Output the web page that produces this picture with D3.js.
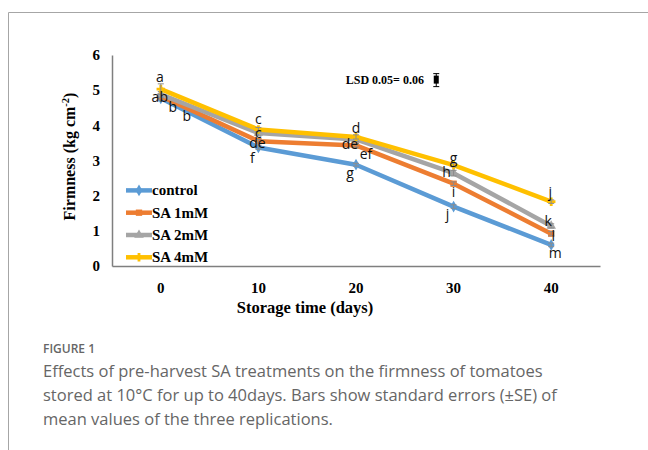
<!DOCTYPE html>
<html>
<head>
<meta charset="utf-8">
<script src="https://cdn.jsdelivr.net/npm/d3@7"></script>
<style>
  body { margin: 0; background: #fff; }
</style>
</head>
<body>
<div id="chart"></div>
<script>
// storage time (days)
const days = ['0', '10', '20', '30', '40'];
const yTicks = [0, 1, 2, 3, 4, 5, 6];

// firmness (kg cm-2)
const control = [4.77, 3.37, 2.88, 1.69, 0.60];
const sa1 = [4.83, 3.55, 3.43, 2.34, 0.92];
const sa2 = [4.88, 3.78, 3.60, 2.64, 1.14];
const sa4 = [5.03, 3.88, 3.67, 2.87, 1.83];

// standard errors (small, mostly hidden under the lines)
const seControl = [0.05, 0.05, 0.04, 0.05, 0.05];
const seSa1 = [0.05, 0.05, 0.05, 0.05, 0.06];
const seSa2 = [0.08, 0.08, 0.06, 0.08, 0.06];
const seSa4 = [0.15, 0.06, 0.06, 0.05, 0.05];

// significance letters
const letControl = ['b', 'f', 'g', 'j', 'm'];
const letSa1 = ['b', 'de', 'ef', 'i', 'l'];
const letSa2 = ['ab', 'c', 'de', 'h', 'k'];
const letSa4 = ['a', 'c', 'd', 'g', 'j'];

const seriesNames = ['control', 'SA 1mM', 'SA 2mM', 'SA 4mM'];

const series = [
  {name: seriesNames[0], values: control, se: seControl, letters: letControl,
   color: '#5B9BD5', marker: d3.symbolDiamond,
   off: [[26, 17], [-6, 10], [-6, 8], [-6, 7], [4, 8]]},
  {name: seriesNames[1], values: sa1, se: seSa1, letters: letSa1,
   color: '#ED7D31', marker: d3.symbolSquare,
   off: [[12, 10], [-1, 1], [10, 8], [0, 8], [2, 2]]},
  {name: seriesNames[2], values: sa2, se: seSa2, letters: letSa2,
   color: '#A5A5A5', marker: d3.symbolTriangle,
   off: [[-1, 2], [0, -1], [-6, 4], [-7, -2], [-3, -5]]},
  {name: seriesNames[3], values: sa4, se: seSa4, letters: letSa4,
   color: '#FFC000', marker: d3.symbolCross,
   off: [[-1, -13], [0, -11], [0, -9], [0, -8], [-1, -10]]}
];

const W = 648, H = 450;
const margin = {top: 55, right: 48, bottom: 184, left: 112};
const innerW = W - margin.left - margin.right;
const innerH = H - margin.top - margin.bottom;
const serif = '"Liberation Serif", "Times New Roman", serif';
const sans = '"Open Sans", "Noto Sans", sans-serif';

const svg = d3.select('#chart').append('svg')
  .attr('width', W)
  .attr('height', H);

// outer frame (top and left rule of the figure box)
svg.append('path')
  .attr('d', 'M8.5,' + H + 'V12.5H' + W)
  .attr('fill', 'none')
  .attr('stroke', '#a6a6a6')
  .attr('stroke-width', 1);

const g = svg.append('g')
  .attr('transform', 'translate(' + margin.left + ' ' + margin.top + ')');

const x = d3.scaleBand()
  .domain(days)
  .range([0, innerW]);
const y = d3.scaleLinear()
  .domain([0, 6])
  .range([innerH, 0]);
const cx = d => x(d) + x.bandwidth() / 2;

// axes
const yAxis = g.append('g')
  .call(d3.axisLeft(y).tickValues(yTicks).tickSize(0).tickPadding(12).tickFormat(d3.format('d')));
yAxis.select('.domain').attr('stroke', '#7f7f7f').attr('stroke-width', 1.5);
yAxis.selectAll('text')
  .attr('font-family', serif).attr('font-weight', 'bold').attr('font-size', 15).attr('fill', '#000');

const xAxis = g.append('g')
  .attr('transform', 'translate(0 ' + innerH + ')')
  .call(d3.axisBottom(x).tickSize(0).tickPadding(16));
xAxis.select('.domain').attr('stroke', '#7f7f7f').attr('stroke-width', 1.5);
xAxis.selectAll('text')
  .attr('font-family', serif).attr('font-weight', 'bold').attr('font-size', 15).attr('fill', '#000');

// axis titles
g.append('text')
  .attr('x', cx('20') - 51)
  .attr('y', innerH + 47)
  .attr('text-anchor', 'middle')
  .attr('font-family', serif).attr('font-weight', 'bold').attr('font-size', 16.5)
  .text('Storage time (days)');

const yTitle = g.append('text')
  .attr('transform', 'translate(-37 ' + (innerH / 2 - 4) + ') rotate(-90)')
  .attr('text-anchor', 'middle')
  .attr('font-family', serif).attr('font-weight', 'bold').attr('font-size', 16);
yTitle.append('tspan').text('Firmness (kg cm');
yTitle.append('tspan').attr('font-size', 10.5).attr('dy', -6).text('-2');
yTitle.append('tspan').attr('dy', 6).text(')');

// lines
const line = d3.line()
  .x((d, i) => cx(days[i]))
  .y(d => y(d));

series.forEach(s => {
  const sg = g.append('g');
  sg.append('path')
    .datum(s.values)
    .attr('d', line)
    .attr('fill', 'none')
    .attr('stroke', s.color)
    .attr('stroke-width', 4.5)
    .attr('stroke-linejoin', 'round');
  sg.selectAll('.marker')
    .data(s.values)
    .join('path')
    .attr('class', 'marker')
    .attr('transform', (d, i) => 'translate(' + cx(days[i]) + ' ' + y(d) + ')')
    .attr('d', d3.symbol().type(s.marker).size(40))
    .attr('fill', s.color);
  // error bars
  sg.selectAll('.err')
    .data(s.values)
    .join('path')
    .attr('class', 'err')
    .attr('d', (d, i) => {
      const xx = cx(days[i]);
      const y0 = y(d - s.se[i]), y1 = y(d + s.se[i]);
      return 'M' + (xx - 3) + ',' + y1 + 'H' + (xx + 3) + 'M' + xx + ',' + y1 + 'V' + y0 +
        'M' + (xx - 3) + ',' + y0 + 'H' + (xx + 3);
    })
    .attr('fill', 'none')
    .attr('stroke', '#8c8c8c')
    .attr('stroke-width', 1);
});

// significance letters
series.forEach(s => {
  g.append('g').selectAll('text')
    .data(s.letters)
    .join('text')
    .attr('x', (d, i) => cx(days[i]) + s.off[i][0])
    .attr('y', (d, i) => y(s.values[i]) + s.off[i][1])
    .attr('text-anchor', 'middle')
    .attr('dominant-baseline', 'central')
    .attr('font-family', sans)
    .attr('font-size', 14)
    .attr('fill', '#111')
    .text(d => d);
});

// LSD note
const lsd = g.append('g').attr('transform', 'translate(' + (innerW * 0.479) + ' ' + y(5.3) + ')');
lsd.append('text')
  .attr('x', 0).attr('y', 4)
  .attr('font-family', serif).attr('font-weight', 'bold').attr('font-size', 12)
  .text('LSD 0.05= 0.06');
lsd.append('rect')
  .attr('x', 88).attr('y', -4).attr('width', 5).attr('height', 8)
  .attr('fill', '#000');
lsd.append('path')
  .attr('d', 'M87.5,-6H93.5M90.5,-6V7M87.5,7H93.5')
  .attr('stroke', '#000').attr('stroke-width', 1);

// legend
const legend = g.append('g').attr('transform', 'translate(14 ' + y(2.15) + ')');
series.forEach((s, i) => {
  const row = legend.append('g').attr('transform', 'translate(0 ' + (i * 22.3) + ')');
  row.append('line')
    .attr('x1', 0).attr('x2', 26)
    .attr('stroke', s.color).attr('stroke-width', 4.5);
  row.append('path')
    .attr('transform', 'translate(13 0)')
    .attr('d', d3.symbol().type(s.marker).size(40))
    .attr('fill', s.color);
  row.append('text')
    .attr('x', 26).attr('y', 0)
    .attr('dominant-baseline', 'central')
    .attr('font-family', serif).attr('font-weight', 'bold').attr('font-size', 15)
    .text(s.name);
});

// caption
svg.append('text')
  .attr('x', 43).attr('y', 353)
  .attr('font-family', sans).attr('font-weight', 600).attr('font-size', 12)
  .attr('fill', '#666')
  .text('FIGURE 1');

const caption = [
  'Effects of pre-harvest SA treatments on the firmness of tomatoes',
  'stored at 10\u00B0C for up to 40days. Bars show standard errors (\u00B1SE) of',
  'mean values of the three replications.'
];
svg.append('g').selectAll('text')
  .data(caption)
  .join('text')
  .attr('x', 43)
  .attr('y', (d, i) => 377 + i * 24)
  .attr('font-family', sans).attr('font-size', 16.5)
  .attr('fill', '#666')
  .text(d => d);
</script>
</body>
</html>
